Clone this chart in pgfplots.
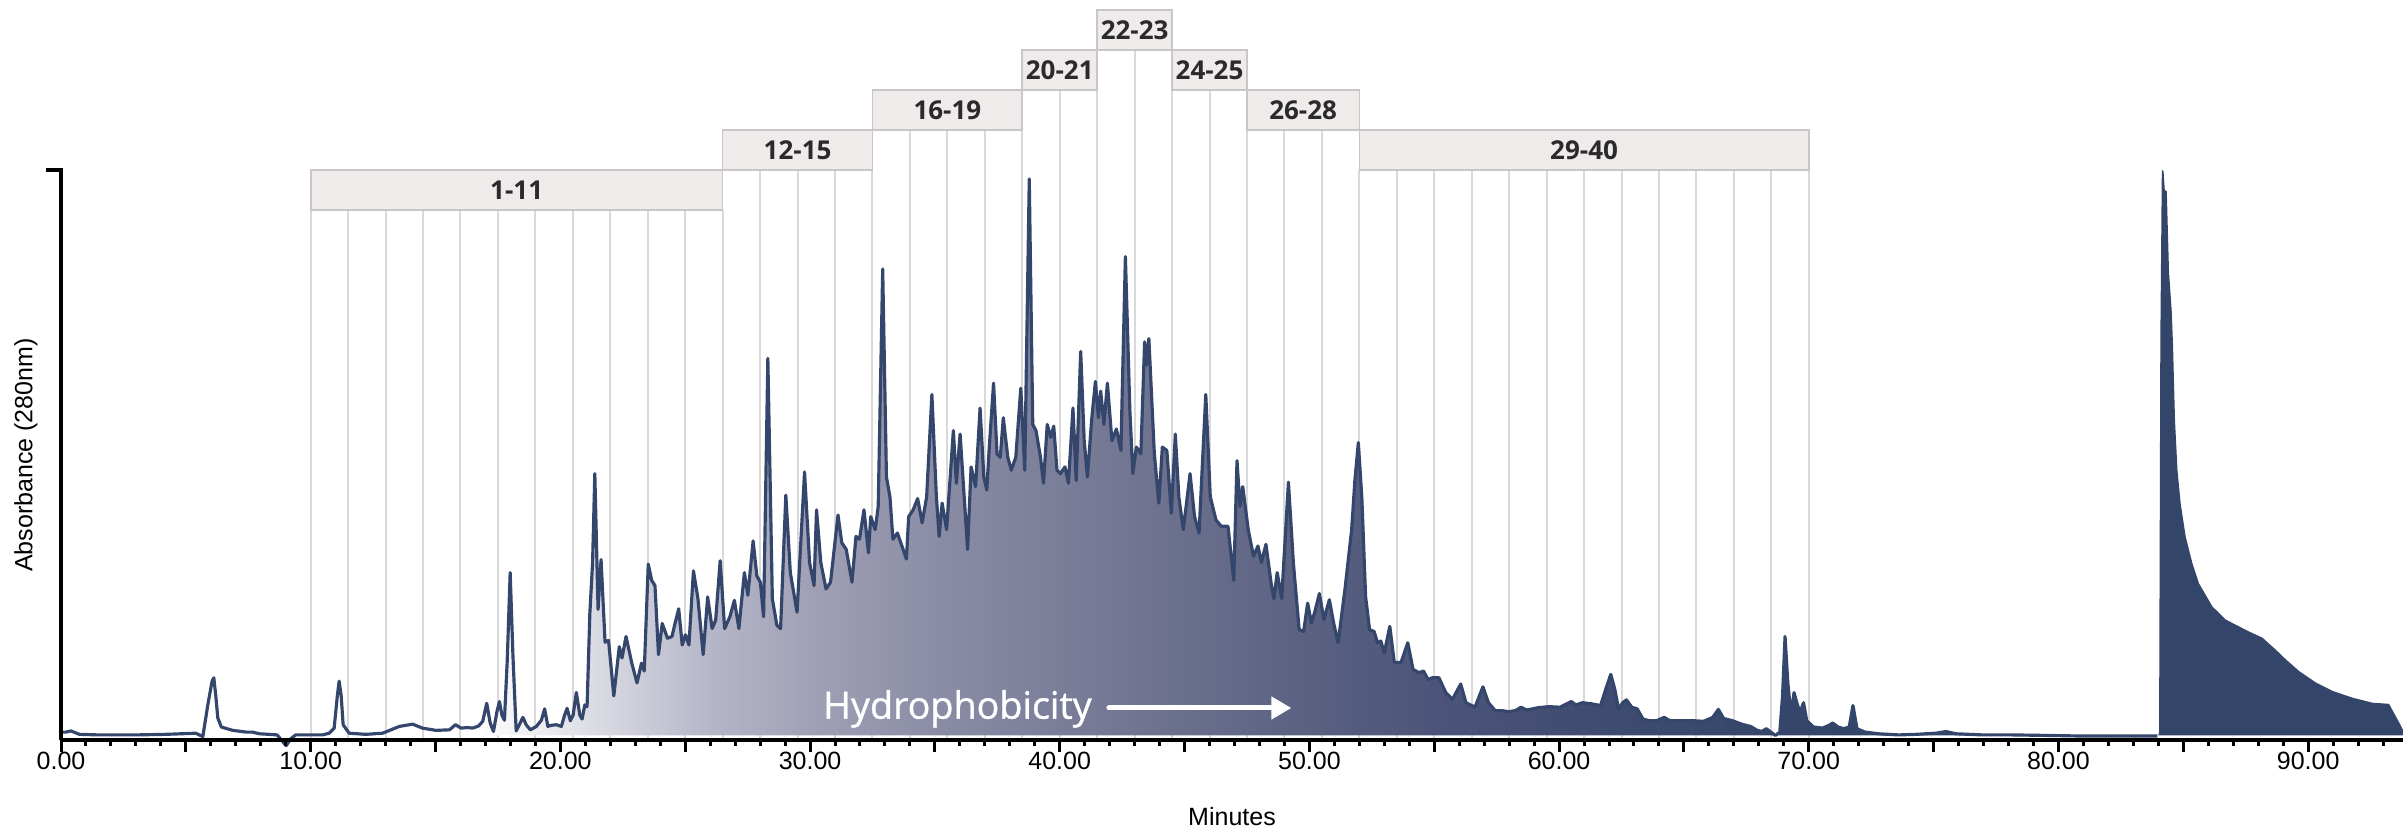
\documentclass[border=0pt]{standalone}
\usepackage{fontspec}
\setmainfont{Liberation Sans}
\newfontfamily\osans{Open Sans}
\newfontfamily\osanssb[FakeBold=1.0]{Open Sans}
\usepackage{pgfplots}
\usepackage{pgfplotstable}
\pgfplotsset{compat=1.18}
\usetikzlibrary{arrows.meta}

\definecolor{linec}{HTML}{34466B}
\definecolor{navy}{HTML}{34456A}
\definecolor{gridc}{HTML}{D9D9D9}
\definecolor{boxfill}{HTML}{EEEBEA}
\definecolor{boxdraw}{HTML}{C9C6C5}
\definecolor{boxtext}{HTML}{2A2A2A}
\definecolor{g0}{HTML}{FFFFFF}
\definecolor{g1}{HTML}{EEEEF2}
\definecolor{g2}{HTML}{D6D6E0}
\definecolor{g3}{HTML}{B5B6C8}
\definecolor{g4}{HTML}{A0A1B6}
\definecolor{g5}{HTML}{8B8DA6}
\definecolor{g6}{HTML}{7B7E99}
\definecolor{g7}{HTML}{6A6F8C}
\definecolor{g8}{HTML}{5A6181}
\definecolor{g9}{HTML}{4C5579}
\definecolor{g10}{HTML}{424D72}
\definecolor{g11}{HTML}{39486D}
\definecolor{g12}{HTML}{34456A}

\pgfdeclarehorizontalshading{hydro}{100bp}{color(0bp)=(g0); color(25bp)=(g0); color(26.85bp)=(g1); color(29.07bp)=(g2); color(32.04bp)=(g3); color(35bp)=(g4); color(38.7bp)=(g5); color(42.41bp)=(g6); color(46.11bp)=(g7); color(49.81bp)=(g8); color(53.52bp)=(g9); color(57.22bp)=(g10); color(61.67bp)=(g11); color(66.11bp)=(g12); color(75bp)=(g12); color(100bp)=(g12)}

% segment A: 0 - 16.5 min (line only)
\pgfplotstableread{
t v
0.00 0.6
0.20 0.6
0.40 0.8
0.74 0.2
1.50 0.1
3.00 0.1
4.20 0.2
5.40 0.4
5.68 -0.2
5.88 5.4
6.05 9.6
6.12 10.2
6.20 7.0
6.28 3.1
6.42 1.5
6.88 0.9
7.42 0.6
7.66 0.6
7.95 0.3
8.33 0.2
8.66 0.1
8.86 -1.0
9.02 -1.8
9.20 -0.6
9.40 0.1
9.93 0.1
10.47 0.1
10.74 0.4
10.94 1.3
11.07 7.1
11.14 9.6
11.22 7.1
11.30 1.9
11.54 0.4
12.21 0.2
12.88 0.4
13.55 1.6
14.08 2.0
14.48 1.3
15.02 0.9
15.56 1.0
15.80 1.9
16.02 1.3
16.29 1.4
16.50 1.3
}\tA

% segment B: 16.5 - 84 min (gradient fill)
\pgfplotstableread{
t v
16.50 1.3
16.73 1.7
16.89 2.5
17.05 5.7
17.19 2.2
17.32 0.7
17.46 4.2
17.56 6.0
17.66 3.6
17.76 2.7
17.87 13.0
17.99 28.8
18.10 14.2
18.23 0.8
18.39 2.2
18.50 3.2
18.63 1.9
18.80 1.0
19.04 1.6
19.24 2.7
19.37 4.7
19.50 1.6
19.64 1.8
19.84 1.9
20.04 1.6
20.17 3.6
20.27 4.8
20.40 2.6
20.51 3.6
20.64 7.6
20.78 3.6
20.87 2.9
20.98 5.4
21.07 5.1
21.18 21.5
21.29 30.5
21.38 46.3
21.51 22.3
21.63 31.1
21.79 16.5
21.93 16.8
22.14 7.0
22.36 15.7
22.47 13.7
22.63 17.5
22.86 12.8
23.07 9.3
23.25 12.8
23.36 11.4
23.52 30.3
23.66 27.4
23.79 26.5
23.93 14.3
24.08 19.8
24.29 17.2
24.47 17.5
24.56 19.2
24.74 22.4
24.88 16.0
25.01 17.8
25.15 16.0
25.33 29.1
25.51 24.2
25.72 14.3
25.90 24.5
26.08 18.9
26.22 20.4
26.40 30.9
26.58 18.9
26.79 21.0
26.97 23.9
27.15 18.9
27.37 28.8
27.51 24.8
27.72 34.4
27.87 28.2
28.01 27.1
28.14 21.0
28.31 66.7
28.49 24.2
28.67 19.5
28.82 18.9
29.03 42.5
29.21 28.8
29.48 21.8
29.78 46.6
29.98 30.6
30.16 26.5
30.26 39.9
30.43 30.6
30.64 25.9
30.82 27.1
31.12 39.0
31.27 34.1
31.45 32.9
31.68 27.1
31.84 35.2
31.98 34.7
32.16 39.9
32.34 32.3
32.43 38.7
32.61 36.4
32.73 40.5
32.91 82.5
33.06 45.7
33.20 42.2
33.32 34.7
33.50 35.8
33.68 33.5
33.86 31.2
33.95 38.7
34.13 39.9
34.31 41.9
34.49 37.6
34.67 42.2
34.88 60.3
35.06 42.2
35.17 35.2
35.29 41.1
35.47 36.4
35.74 53.9
35.86 44.6
36.01 53.3
36.19 41.1
36.31 32.9
36.45 47.5
36.63 44.0
36.81 57.9
36.96 45.7
37.08 43.4
37.17 50.4
37.35 62.3
37.49 49.8
37.62 49.2
37.74 56.2
37.92 49.2
38.06 46.9
38.24 49.2
38.44 61.4
38.60 46.9
38.78 98.4
38.92 55.0
39.05 53.9
39.23 49.2
39.35 44.6
39.50 55.0
39.64 52.7
39.76 54.7
39.89 46.9
40.03 46.3
40.21 47.5
40.35 44.6
40.53 57.9
40.66 45.1
40.84 67.9
40.98 52.1
41.11 45.7
41.28 55.9
41.43 62.6
41.55 56.2
41.64 60.9
41.77 55.0
41.91 62.3
42.09 52.1
42.27 54.2
42.45 50.4
42.63 84.7
42.81 57.4
42.93 46.3
43.07 51.0
43.25 49.8
43.40 69.6
43.47 65.5
43.57 70.2
43.79 49.8
43.97 41.1
44.11 51.0
44.29 50.4
44.47 39.3
44.63 53.3
44.77 42.2
44.95 36.4
45.22 46.3
45.40 38.7
45.58 35.8
45.85 60.3
46.03 42.2
46.26 38.1
46.47 37.0
46.74 37.0
46.97 27.4
47.10 48.6
47.22 40.5
47.33 44.0
47.55 36.4
47.76 31.7
47.94 33.5
48.08 30.6
48.26 33.8
48.48 26.5
48.58 24.2
48.71 28.8
48.89 24.2
49.16 44.8
49.36 30.4
49.59 18.7
49.77 18.4
49.93 23.4
50.08 19.9
50.22 21.9
50.40 25.1
50.58 20.5
50.80 24.0
50.97 19.9
51.15 16.4
51.42 25.7
51.69 36.3
51.82 45.0
51.96 51.8
52.10 42.1
52.25 24.6
52.41 18.7
52.59 18.4
52.73 16.4
52.86 16.7
53.00 14.6
53.22 19.3
53.40 12.9
53.67 12.9
53.94 16.4
54.15 11.7
54.39 11.1
54.57 11.4
54.75 9.9
54.92 10.2
55.19 10.2
55.46 7.6
55.73 6.4
56.06 9.1
56.27 5.8
56.63 5.0
56.95 8.6
57.17 5.8
57.44 4.4
57.71 4.4
57.98 4.2
58.25 4.4
58.48 5.0
58.70 4.5
59.14 4.9
59.59 5.1
60.04 5.0
60.31 5.6
60.49 6.0
60.67 5.4
60.94 5.8
61.30 5.6
61.66 5.3
61.87 8.2
62.07 10.8
62.23 8.2
62.38 4.7
62.55 5.8
62.70 6.3
62.91 5.0
63.13 4.7
63.36 2.9
63.63 2.6
63.90 2.6
64.21 3.2
64.44 2.6
64.80 2.6
65.16 2.6
65.43 2.6
65.79 2.5
66.15 3.2
66.38 4.6
66.59 3.0
66.95 2.6
67.31 2.0
67.67 1.6
67.94 0.9
68.12 0.7
68.30 1.2
68.48 0.6
68.66 0.0
68.84 0.6
68.95 7.0
69.05 17.5
69.16 9.4
69.29 3.5
69.41 7.6
69.52 5.8
69.65 4.1
69.79 5.8
69.92 2.6
70.19 1.5
70.55 1.3
70.81 1.8
70.96 2.2
71.17 1.5
71.40 1.2
71.62 1.5
71.77 5.3
71.93 1.2
72.25 0.6
72.79 0.3
73.60 0.1
74.29 0.2
75.09 0.4
75.49 0.7
75.89 0.3
76.96 0.1
78.16 0.1
79.63 0.0
80.96 -0.1
83.96 -0.1
}\tB

% segment C: 84 - 93.8 min (solid peak)
\pgfplotstableread{
t v
84.00 0.0
84.03 0.6
84.08 70.0
84.14 100.0
84.21 99.8
84.26 96.5
84.34 96.2
84.43 81.9
84.54 74.9
84.59 69.0
84.67 55.6
84.77 46.8
84.90 40.9
85.10 35.1
85.37 30.4
85.63 26.9
86.17 22.8
86.70 20.5
87.23 19.3
87.63 18.4
88.17 17.3
88.70 15.2
89.10 13.5
89.64 11.4
90.30 9.4
90.97 7.9
91.77 6.7
92.57 5.8
93.24 5.6
93.71 1.8
93.80 1.0
}\tC

\begin{document}
\begin{tikzpicture}
\begin{axis}[
  name=ax,
  scale only axis,
  width=702.6pt, height=171pt,
  xmin=0, xmax=93.8, ymin=-0.8, ymax=100,
  clip=false,
  axis on top,
  axis x line=bottom, axis y line=left,
  axis line style={-, line width=1.3pt, black},
  every outer x axis line/.append style={-},
  y axis line style={draw=none},
  xtick={0,5,...,90},
  xticklabels={0.00,,10.00,,20.00,,30.00,,40.00,,50.00,,60.00,,70.00,,80.00,,90.00},
  minor xtick={0,1,...,93},
  ytick=\empty,
  tick align=outside,
  major tick length=3.6pt, minor tick length=1.8pt,
  every tick/.style={black, line width=0.9pt},
  xticklabel style={font=\fontsize{7.5}{9}\selectfont, text=black, yshift=3.6pt},
  xlabel={Minutes},
  ylabel={Absorbance (280nm)},
  xlabel style={font=\fontsize{7.5}{9}\selectfont, at={(axis description cs:0.5,0)}, anchor=center, yshift=-23.1pt},
  ylabel style={font=\fontsize{7.5}{9}\selectfont, at={(axis description cs:0,0.5)}, anchor=center, yshift=10.5pt},
]
% fraction lines
\pgfplotsinvokeforeach{10,11.5,13,14.5,16,17.5,19,20.5,22,23.5,25,26.5}{
  \draw[gridc, line width=0.6pt] (axis cs:#1,-0.8) -- (axis cs:#1,92.93);}
\pgfplotsinvokeforeach{28,29.5,31,32.5,52,53.5,55,56.5,58,59.5,61,62.5,64,65.5,67,68.5,70}{
  \draw[gridc, line width=0.6pt] (axis cs:#1,-0.8) -- (axis cs:#1,100);}
\pgfplotsinvokeforeach{34,35.5,37,38.5,47.5,49,50.5}{
  \draw[gridc, line width=0.6pt] (axis cs:#1,-0.8) -- (axis cs:#1,107.07);}
\pgfplotsinvokeforeach{40,41.5,44.5,46}{
  \draw[gridc, line width=0.6pt] (axis cs:#1,-0.8) -- (axis cs:#1,114.14);}
\draw[gridc, line width=0.6pt] (axis cs:43,-0.8) -- (axis cs:43,121.2);

% fills
\addplot[draw=none, shade, shading=hydro] table[x=t, y=v] {\tB} \closedcycle;
\addplot[draw=none, fill=navy] table[x=t, y=v] {\tC} \closedcycle;
% trace
\addplot[linec, line width=0.95pt, line join=round] table[x=t, y=v] {\tA};
\addplot[linec, line width=0.95pt, line join=round] table[x=t, y=v] {\tB};

% fraction boxes
\tikzset{fbox/.style={fill=boxfill, draw=boxdraw, line width=0.5pt},
         flab/.style={text=boxtext, font=\osans\bfseries\fontsize{7.8}{9}\selectfont, inner sep=0pt}}
\draw[fbox] (axis cs:10,92.93) rectangle (axis cs:26.5,100);
\draw[fbox] (axis cs:26.5,100) rectangle (axis cs:32.5,107.07);
\draw[fbox] (axis cs:32.5,107.07) rectangle (axis cs:38.5,114.14);
\draw[fbox] (axis cs:38.5,114.14) rectangle (axis cs:41.5,121.2);
\draw[fbox] (axis cs:41.5,121.2) rectangle (axis cs:44.5,128.27);
\draw[fbox] (axis cs:44.5,114.14) rectangle (axis cs:47.5,121.2);
\draw[fbox] (axis cs:47.5,107.07) rectangle (axis cs:52,114.14);
\draw[fbox] (axis cs:52,100) rectangle (axis cs:70,107.07);
\node[flab] at (axis cs:18.25,96.47) {1-11};
\node[flab] at (axis cs:29.5,103.53) {12-15};
\node[flab] at (axis cs:35.5,110.6) {16-19};
\node[flab] at (axis cs:40,117.67) {20-21};
\node[flab] at (axis cs:43,124.73) {22-23};
\node[flab] at (axis cs:46,117.67) {24-25};
\node[flab] at (axis cs:49.75,110.6) {26-28};
\node[flab] at (axis cs:61,103.53) {29-40};

% hydrophobicity annotation
\node[anchor=base west, text=white, font=\osanssb\fontsize{11.3}{13}\selectfont, inner sep=0pt] at (axis cs:30.5,2.97) {Hydrophobicity};
\draw[white, line width=1.5pt, line cap=round, -{Triangle[width=6.5pt,length=6pt]}] (axis cs:41.97,4.86) -- (axis cs:49.28,4.86);

% y-axis line with top cap
\draw[black, line width=1.3pt, line join=miter] (axis cs:0,-0.8) -- (axis cs:0,100) -- ([xshift=-4.5pt]axis cs:0,100);
\end{axis}
\pgfresetboundingbox
\path[use as bounding box] ([shift={(-18.3pt,-27.3pt)}]ax.south west) rectangle ([shift={(702.6pt,222pt)}]ax.south west);
\end{tikzpicture}
\end{document}
